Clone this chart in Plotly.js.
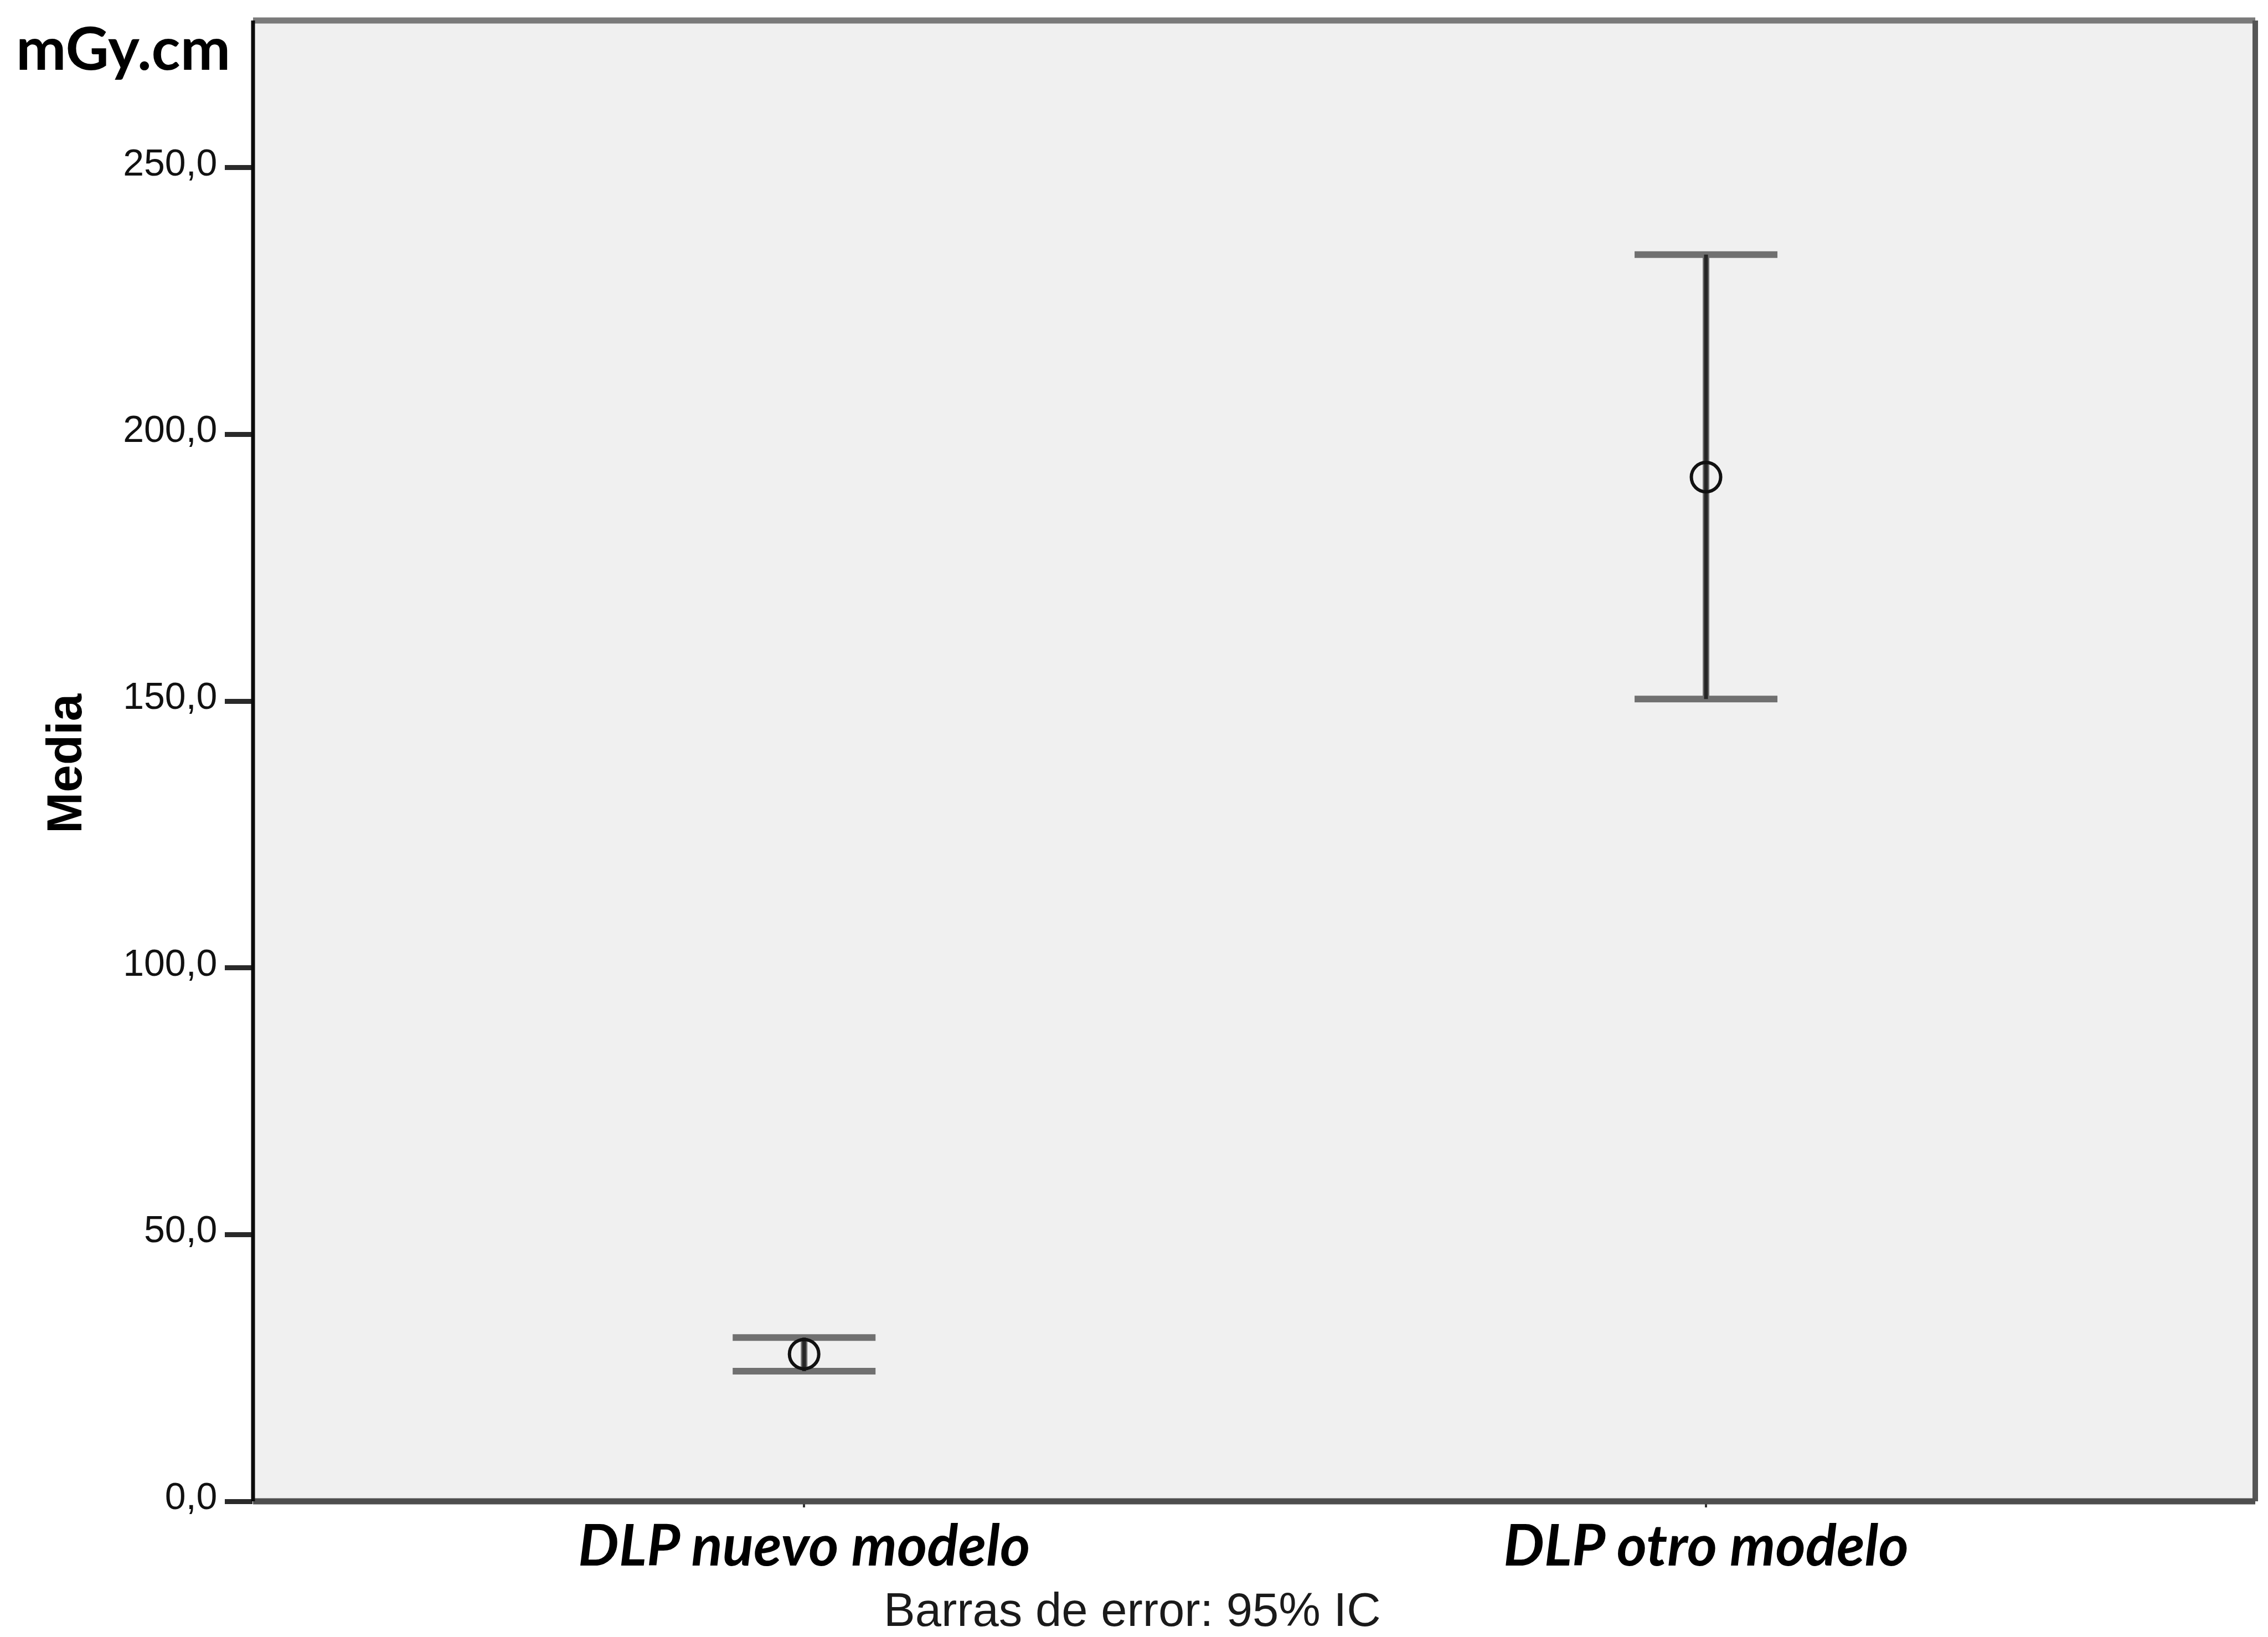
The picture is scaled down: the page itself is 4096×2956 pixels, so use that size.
<!DOCTYPE html>
<html>
<head>
<meta charset="utf-8">
<script src="https://cdn.plot.ly/plotly-3.0.1.min.js"></script>
<style>
  html, body { margin: 0; padding: 0; background: #ffffff; }
  #chart { width: 4096px; height: 2956px; }
</style>
</head>
<body>
<div id="chart"></div>
<script>
// ---- data ----
const categories = ['DLP nuevo modelo', 'DLP otro modelo'];
const means = [27.6, 192.0];
const lowerCI = [24.4, 150.4];
const upperCI = [30.7, 233.7];
const yTickValues = [0, 50, 100, 150, 200, 250];
const unitLabel = 'mGy.cm';
const yTitle = 'Media';
const footnote = 'Barras de error: 95% IC';

// ---- layout geometry (output pixels) ----
const W = 4096, H = 2956;
const M = { l: 457, r: 23, t: 37, b: 245 };
const plotW = W - M.l - M.r, plotH = H - M.t - M.b;
const px2x = x => (x - M.l) / plotW;
const px2y = y => (H - M.b - y) / plotH;

const errPlus = upperCI.map((u, i) => u - means[i]);
const errMinus = lowerCI.map((l, i) => means[i] - l);

const capTrace = {
  x: categories, y: means, type: 'scatter', mode: 'markers',
  marker: { opacity: 0, size: 1 },
  error_y: { type: 'data', symmetric: false, array: errPlus, arrayminus: errMinus,
             width: 129, thickness: 12, color: '#707070' },
  hoverinfo: 'skip', showlegend: false
};
const stemTrace = {
  x: categories, y: means, type: 'scatter', mode: 'markers',
  marker: { symbol: 'circle-open', size: 53, color: '#111111', line: { width: 6, color: '#111111' } },
  error_y: { type: 'data', symmetric: false, array: errPlus, arrayminus: errMinus,
             width: 0, thickness: 7, color: '#262626' },
  showlegend: false
};

const layout = {
  width: W, height: H,
  margin: M,
  paper_bgcolor: '#ffffff',
  plot_bgcolor: '#f0f0f0',
  separators: ',.',
  showlegend: false,
  xaxis: {
    type: 'category',
    range: [-0.611, 1.609],
    showgrid: false, zeroline: false, showline: false,
    ticks: 'outside', ticklen: 10, tickwidth: 4, tickcolor: '#333333',
    tickfont: { family: 'Lato', size: 104, weight: 'bold', style: 'italic', color: '#000000' },
    ticklabelstandoff: -20
  },
  yaxis: {
    range: [0, 277.6],
    tickvals: yTickValues,
    tickformat: '.1f',
    showgrid: false, zeroline: false, showline: false,
    ticks: 'outside', ticklen: 50, tickwidth: 9, tickcolor: '#2a2a2a',
    tickfont: { family: 'Liberation Sans', size: 68, color: '#111111' },
    ticklabelstandoff: 0,
    ticklabelshift: -10
  },
  shapes: [
    { type: 'line', xref: 'paper', yref: 'paper', x0: 0, x1: 1, y0: 1, y1: 1, line: { color: '#7a7a7a', width: 11 } },
    { type: 'line', xref: 'paper', yref: 'paper', x0: 1, x1: 1, y0: 0, y1: 1, line: { color: '#555555', width: 10 } },
    { type: 'line', xref: 'paper', yref: 'paper', x0: 0, x1: 1, y0: 0, y1: 0, line: { color: '#4e4e4e', width: 11 } },
    { type: 'line', xref: 'paper', yref: 'paper', x0: 0, x1: 0, y0: 0, y1: 1, line: { color: '#0a0a0a', width: 7 } }
  ],
  annotations: [
    { text: unitLabel, xref: 'paper', yref: 'paper', x: px2x(222), y: px2y(84),
      xanchor: 'center', yanchor: 'middle', showarrow: false,
      font: { family: 'Lato', size: 108, weight: 'bold', color: '#000000' } },
    { text: yTitle, xref: 'paper', yref: 'paper', x: px2x(116), y: px2y(1378),
      xanchor: 'center', yanchor: 'middle', showarrow: false, textangle: -90,
      font: { family: 'Liberation Sans', size: 89, weight: 'bold', color: '#000000' } },
    { text: footnote, xref: 'paper', yref: 'paper', x: px2x(2045), y: px2y(2906),
      xanchor: 'center', yanchor: 'middle', showarrow: false,
      font: { family: 'Liberation Sans', size: 85, color: '#1a1a1a' } }
  ]
};

Plotly.newPlot('chart', [capTrace, stemTrace], layout, { staticPlot: true, displayModeBar: false });
</script>
</body>
</html>
